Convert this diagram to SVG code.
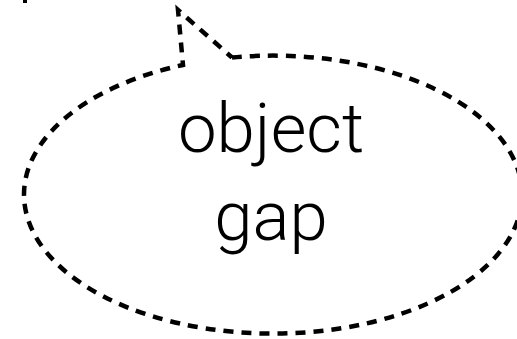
<svg xmlns="http://www.w3.org/2000/svg" width="517" height="339" viewBox="0 0 517 339">
<style>
.dash{fill:none;stroke:#000;stroke-width:4.5;stroke-dasharray:10 8;}
.lbl{font-family:Roboto,"Liberation Sans",sans-serif;font-weight:300;font-size:69px;fill:#000;text-anchor:middle;}
</style>
<rect width="517" height="339" fill="#fff"/>
<g id="fragment"><line x1="25" y1="0" x2="25" y2="3" stroke="#000" stroke-width="4"/></g>
<g id="bubble">
<path class="dash" d="M232,57.5 A249,139 0 1 1 183,65 L178,10 L232,57.5"/>
<text class="lbl" x="271" y="152">object</text>
<text class="lbl" x="271" y="240">gap</text>
</g>
</svg>
